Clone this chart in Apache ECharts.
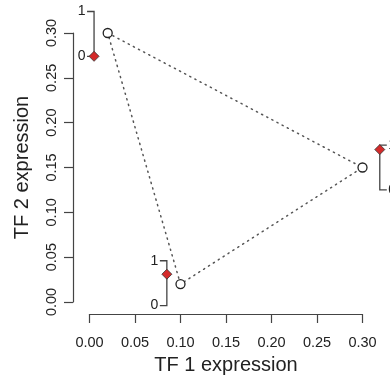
<!DOCTYPE html>
<html><head><meta charset="utf-8">
<script src="https://cdn.jsdelivr.net/npm/echarts@6/dist/echarts.min.js"></script>
<style>html,body{margin:0;padding:0;background:#fff}#c{width:390px;height:380px}</style>
</head><body><div id="c"></div>
<script>
// Axis ticks
const xTicks = [0.00, 0.05, 0.10, 0.15, 0.20, 0.25, 0.30];
const yTicks = [0.00, 0.05, 0.10, 0.15, 0.20, 0.25, 0.30];
// States (open circles), joined by dotted triangle
const stateX = [0.02, 0.30, 0.10];
const stateY = [0.30, 0.15, 0.02];
// Mini 0..1 scales with red diamond markers
const scaleX = [0.005, 0.085, 0.319];
const scaleBase = [0.274, -0.004, 0.125];
const scaleValue = [0, 0.7, 0.9];
const scaleSpan = 0.05;          // data units covered by the 0..1 mini scale
const scaleLabels = ['0', '1'];
const scaleSide = [-1, -1, 1];    // -1: labels on left, 1: labels on right

const FONT = '"Liberation Sans", Arial, Helvetica, sans-serif';
const LINE = '#444';
const TEXT = '#222';

const tri = stateX.map((x, i) => [x, stateY[i]]);
tri.push([stateX[0], stateY[0]]);
const diamonds = scaleX.map((x, i) => [x, scaleBase[i] + scaleValue[i] * scaleSpan]);
const brackets = scaleX.map((x, i) => [x, scaleBase[i], i]);

const chart = echarts.init(document.getElementById('c'), null, {renderer: 'canvas'});
chart.setOption({
  animation: false,
  backgroundColor: '#fff',
  grid: {left: 89.5, top: 33, width: 273, height: 273},
  xAxis: {
    type: 'value', min: xTicks[0], max: xTicks[xTicks.length - 1], interval: 0.05,
    offset: 12,
    name: 'TF 1 expression', nameLocation: 'middle', nameGap: 41,
    nameTextStyle: {fontFamily: FONT, fontSize: 20, color: TEXT},
    axisLine: {show: true, onZero: false, lineStyle: {color: LINE, width: 1.2}},
    axisTick: {show: true, length: 9, lineStyle: {color: LINE, width: 1.2}},
    axisLabel: {margin: 21, fontFamily: FONT, fontSize: 14.5, color: TEXT,
      formatter: v => v.toFixed(2)},
    splitLine: {show: false}
  },
  yAxis: {
    type: 'value', min: yTicks[0], max: yTicks[yTicks.length - 1], interval: 0.05,
    offset: 16.5,
    name: 'TF 2 expression', nameLocation: 'middle', nameGap: 41,
    nameTextStyle: {fontFamily: FONT, fontSize: 20, color: TEXT},
    axisLine: {show: true, onZero: false, lineStyle: {color: LINE, width: 1.2}},
    axisTick: {show: true, length: 9, lineStyle: {color: LINE, width: 1.2}},
    axisLabel: {margin: 14, rotate: 90, fontFamily: FONT, fontSize: 14.5, color: TEXT,
      formatter: v => v.toFixed(2)},
    splitLine: {show: false}
  },
  series: [
    {
      type: 'line', data: tri, showSymbol: false, clip: false, z: 2,
      lineStyle: {color: '#555', width: 1.5, type: [1.2, 4.6], cap: 'round'}
    },
    {
      type: 'scatter', data: tri.slice(0, 3), clip: false, z: 3,
      symbol: 'circle', symbolSize: 9,
      itemStyle: {color: '#fff', borderColor: '#222', borderWidth: 1.3, opacity: 1}
    },
    {
      type: 'custom', data: brackets, clip: false, z: 4,
      encode: {x: 0, y: 1},
      renderItem: function (params, api) {
        const i = api.value(2);
        const x = api.value(0), b = api.value(1);
        const pb = api.coord([x, b]);
        const pt = api.coord([x, b + scaleSpan]);
        const d = scaleSide[i];
        const tl = 7;
        const ts = {fontFamily: FONT, fontSize: 14, fill: TEXT,
          align: d < 0 ? 'right' : 'left', verticalAlign: 'middle'};
        return {
          type: 'group', children: [
            {type: 'polyline', shape: {points: [[pt[0] + d * tl, pt[1]], [pt[0], pt[1]], [pb[0], pb[1]], [pb[0] + d * tl, pb[1]]]},
              style: {stroke: LINE, lineWidth: 1.3, fill: null}},
            {type: 'text', x: pt[0] + d * (tl + 1.5), y: pt[1], style: Object.assign({text: scaleLabels[1]}, ts)},
            {type: 'text', x: pb[0] + d * (tl + 1.5), y: pb[1], style: Object.assign({text: scaleLabels[0]}, ts)}
          ]
        };
      }
    },
    {
      type: 'scatter', data: diamonds, clip: false, z: 5,
      symbol: 'diamond', symbolSize: [10, 10],
      itemStyle: {color: '#d42a2a', borderColor: '#333', borderWidth: 0.8, opacity: 1}
    }
  ]
});
</script>
</body></html>
